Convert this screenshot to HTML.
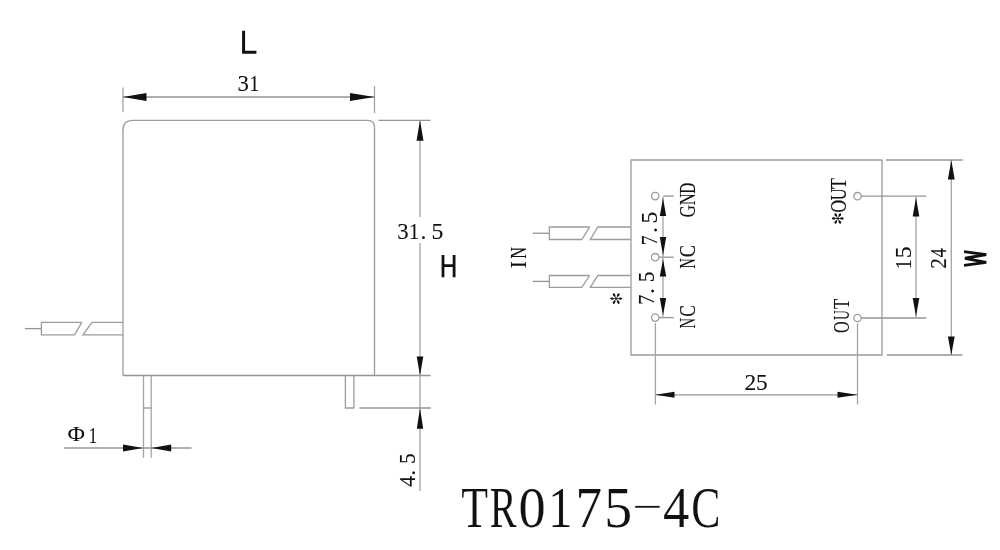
<!DOCTYPE html>
<html><head><meta charset="utf-8"><style>
html,body{margin:0;padding:0;background:#fff;width:1000px;height:550px;overflow:hidden}
svg{display:block;will-change:transform}
</style></head><body>
<svg width="1000" height="550" viewBox="0 0 1000 550">
<rect width="1000" height="550" fill="#fff"/>
<path d="M123,375.5 L123,130.3 Q123,120.3 133,120.3 L367.5,120.3 Q374.5,120.3 374.5,127.3 L374.5,375.5" fill="none" stroke="#9c9c9c" stroke-width="1.3"/>
<line x1="123" y1="375.5" x2="430.6" y2="375.5" stroke="#959595" stroke-width="1.3"/>
<line x1="123" y1="87.6" x2="123" y2="112.2" stroke="#a4a4a4" stroke-width="1.3"/>
<line x1="374.5" y1="86" x2="374.5" y2="113" stroke="#a4a4a4" stroke-width="1.3"/>
<line x1="123" y1="97" x2="374.5" y2="97" stroke="#959595" stroke-width="1.3"/>
<polygon points="123,97 146.5,93.1 146.5,100.9" fill="#111"/>
<polygon points="374.5,97 350.0,93.1 350.0,100.9" fill="#111"/>
<line x1="378.4" y1="120.3" x2="430.6" y2="120.3" stroke="#959595" stroke-width="1.3"/>
<line x1="420" y1="120.3" x2="420" y2="217" stroke="#a4a4a4" stroke-width="1.3"/>
<line x1="420" y1="243" x2="420" y2="491" stroke="#a4a4a4" stroke-width="1.3"/>
<polygon points="420,120.3 416.5,140.8 423.5,140.8" fill="#111"/>
<polygon points="420,375.5 416.7,356.5 423.3,356.5" fill="#111"/>
<polygon points="420,408 416.8,428.7 423.2,428.7" fill="#111"/>
<line x1="359.5" y1="408" x2="430.6" y2="408" stroke="#959595" stroke-width="1.3"/>
<path d="M345.4,375.5 L345.4,408 L353.9,408 L353.9,375.5" fill="none" stroke="#9c9c9c" stroke-width="1.3"/>
<line x1="143.5" y1="375.5" x2="143.5" y2="457.7" stroke="#a4a4a4" stroke-width="1.3"/>
<line x1="151.2" y1="375.5" x2="151.2" y2="457.7" stroke="#a4a4a4" stroke-width="1.3"/>
<line x1="143.5" y1="408" x2="151.2" y2="408" stroke="#959595" stroke-width="1.3"/>
<line x1="64" y1="448" x2="191.6" y2="448" stroke="#959595" stroke-width="1.3"/>
<polygon points="143,448 123,444.6 123,451.4" fill="#111"/>
<polygon points="151.2,448 171.2,444.6 171.2,451.4" fill="#111"/>
<line x1="24.8" y1="328.6" x2="41.4" y2="328.6" stroke="#959595" stroke-width="1.3"/>
<path d="M81.8,322.4 L41.4,322.4 L41.4,334.8 L74.6,334.8 L81.8,322.4" fill="none" stroke="#9c9c9c" stroke-width="1.3"/>
<path d="M123,322.4 L92,322.4 L83,334.8 L123,334.8" fill="none" stroke="#9c9c9c" stroke-width="1.3"/>
<path d="M631,160 L882,160 L882,355 L631,355 Z" fill="none" stroke="#9c9c9c" stroke-width="1.3"/>
<line x1="886" y1="160" x2="962.7" y2="160" stroke="#959595" stroke-width="1.3"/>
<line x1="887" y1="355" x2="962.4" y2="355" stroke="#959595" stroke-width="1.3"/>
<line x1="951.3" y1="160" x2="951.3" y2="355" stroke="#a4a4a4" stroke-width="1.3"/>
<polygon points="951.3,160 947.9,179.6 954.6999999999999,179.6" fill="#111"/>
<polygon points="951.3,355 947.9,336.5 954.6999999999999,336.5" fill="#111"/>
<circle cx="857.5" cy="196.2" r="3.7" fill="none" stroke="#9c9c9c" stroke-width="1.3"/>
<circle cx="857.5" cy="318" r="3.7" fill="none" stroke="#9c9c9c" stroke-width="1.3"/>
<line x1="861.2" y1="196.2" x2="926.4" y2="196.2" stroke="#959595" stroke-width="1.3"/>
<line x1="861.2" y1="318" x2="926.4" y2="318" stroke="#959595" stroke-width="1.3"/>
<line x1="916" y1="196.2" x2="916" y2="318" stroke="#a4a4a4" stroke-width="1.3"/>
<polygon points="916,197.5 912.7,216.5 919.3,216.5" fill="#111"/>
<polygon points="916,316.5 912.7,298.0 919.3,298.0" fill="#111"/>
<line x1="857.5" y1="323.5" x2="857.5" y2="404.5" stroke="#a4a4a4" stroke-width="1.3"/>
<circle cx="655.2" cy="196.1" r="3.7" fill="none" stroke="#9c9c9c" stroke-width="1.3"/>
<line x1="663.3" y1="196.1" x2="673.8" y2="196.1" stroke="#959595" stroke-width="1.3"/>
<circle cx="655.2" cy="257.2" r="3.7" fill="none" stroke="#9c9c9c" stroke-width="1.3"/>
<line x1="659.2" y1="257.2" x2="673.8" y2="257.2" stroke="#959595" stroke-width="1.3"/>
<circle cx="655.2" cy="317.6" r="3.7" fill="none" stroke="#9c9c9c" stroke-width="1.3"/>
<line x1="659.2" y1="317.6" x2="673.8" y2="317.6" stroke="#959595" stroke-width="1.3"/>
<line x1="663" y1="196.5" x2="663" y2="317.4" stroke="#a4a4a4" stroke-width="1.3"/>
<polygon points="663,198 659.8,216 666.2,216" fill="#111"/>
<polygon points="663,255.4 659.8,237.1 666.2,237.1" fill="#111"/>
<polygon points="663,259 659.8,276.5 666.2,276.5" fill="#111"/>
<polygon points="663,315.5 659.8,298.0 666.2,298.0" fill="#111"/>
<line x1="655.4" y1="323" x2="655.4" y2="404.5" stroke="#a4a4a4" stroke-width="1.3"/>
<line x1="655.5" y1="394.8" x2="857.5" y2="394.8" stroke="#959595" stroke-width="1.3"/>
<polygon points="655.5,394.8 674.5,391.8 674.5,397.8" fill="#111"/>
<polygon points="857.5,394.8 837.5,391.8 837.5,397.8" fill="#111"/>
<line x1="532.7" y1="233.25" x2="549.4" y2="233.25" stroke="#959595" stroke-width="1.3"/>
<path d="M589.7,227 L549.4,227 L549.4,239.5 L581.8,239.5 L589.7,227" fill="none" stroke="#9c9c9c" stroke-width="1.3"/>
<path d="M631,227 L597.9,227 L590.3,239.5 L631,239.5" fill="none" stroke="#9c9c9c" stroke-width="1.3"/>
<line x1="532.7" y1="281.4" x2="549.4" y2="281.4" stroke="#959595" stroke-width="1.3"/>
<path d="M589.7,275.5 L549.4,275.5 L549.4,287.3 L581.8,287.3 L589.7,275.5" fill="none" stroke="#9c9c9c" stroke-width="1.3"/>
<path d="M631,275.5 L597.9,275.5 L590.3,287.3 L631,287.3" fill="none" stroke="#9c9c9c" stroke-width="1.3"/>
<path d="M243.6,30.8 V52.2 H256.4" fill="none" stroke="#111" stroke-width="3.0"/>
<path d="M443,255 V277.3 M454.1,255 V277.3 M443,265.6 H454.1" fill="none" stroke="#111" stroke-width="2.8"/>
<path d="M964,251.6 L986.2,254.6 L965,258.3 L986.2,262.4 L964,265.4" fill="none" stroke="#111" stroke-width="2.9"/>
<text transform="translate(237.51,91.20) scale(0.968,1)" font-family="Liberation Serif" font-size="23.5" fill="#111" stroke="#111" stroke-width="0.12">3</text>
<text transform="translate(249.60,91.20) scale(0.822,1)" font-family="Liberation Serif" font-size="23.5" fill="#111" stroke="#111" stroke-width="0.12">1</text>
<text transform="translate(397.31,238.60) scale(0.968,1)" font-family="Liberation Serif" font-size="23.5" fill="#111" stroke="#111" stroke-width="0.12">3</text>
<text transform="translate(409.10,238.60) scale(0.870,1)" font-family="Liberation Serif" font-size="23.5" fill="#111" stroke="#111" stroke-width="0.12">1</text>
<text transform="translate(420.56,238.60) scale(1.000,1)" font-family="Liberation Serif" font-size="23.5" fill="#111" stroke="#111" stroke-width="0.12">.</text>
<text transform="translate(431.58,238.60) scale(1.004,1)" font-family="Liberation Serif" font-size="23.5" fill="#111" stroke="#111" stroke-width="0.12">5</text>
<text transform="translate(415.00,486.82) rotate(-90) scale(0.915,1)" font-family="Liberation Serif" font-size="23.5" fill="#111" stroke="#111" stroke-width="0.12">4</text>
<text transform="translate(415.00,475.64) rotate(-90) scale(1.000,1)" font-family="Liberation Serif" font-size="23.5" fill="#111" stroke="#111" stroke-width="0.12">.</text>
<text transform="translate(415.00,463.94) rotate(-90) scale(0.908,1)" font-family="Liberation Serif" font-size="23.5" fill="#111" stroke="#111" stroke-width="0.12">5</text>
<text transform="translate(67.58,440.50) scale(1.193,1)" font-family="Liberation Serif" font-size="20" fill="#111" stroke="#111" stroke-width="0">Φ</text>
<text transform="translate(88.78,442.60) scale(0.713,1)" font-family="Liberation Serif" font-size="23.5" fill="#111" stroke="#111" stroke-width="0.12">1</text>
<text transform="translate(694.80,193.64) rotate(-90) scale(0.651,1)" font-family="Liberation Serif" font-size="23.5" fill="#111" stroke="#111" stroke-width="0.12">D</text>
<text transform="translate(694.80,205.28) rotate(-90) scale(0.711,1)" font-family="Liberation Serif" font-size="23.5" fill="#111" stroke="#111" stroke-width="0.12">N</text>
<text transform="translate(694.80,217.51) rotate(-90) scale(0.733,1)" font-family="Liberation Serif" font-size="23.5" fill="#111" stroke="#111" stroke-width="0.12">G</text>
<text transform="translate(695.30,257.20) rotate(-90) scale(0.783,1)" font-family="Liberation Serif" font-size="23.5" fill="#111" stroke="#111" stroke-width="0.12">C</text>
<text transform="translate(695.30,268.41) rotate(-90) scale(0.609,1)" font-family="Liberation Serif" font-size="23.5" fill="#111" stroke="#111" stroke-width="0.12">N</text>
<text transform="translate(695.30,316.66) rotate(-90) scale(0.738,1)" font-family="Liberation Serif" font-size="23.5" fill="#111" stroke="#111" stroke-width="0.12">C</text>
<text transform="translate(695.30,328.38) rotate(-90) scale(0.628,1)" font-family="Liberation Serif" font-size="23.5" fill="#111" stroke="#111" stroke-width="0.12">N</text>
<text transform="translate(656.50,223.62) rotate(-90) scale(1.004,1)" font-family="Liberation Serif" font-size="23.5" fill="#111" stroke="#111" stroke-width="0.12">5</text>
<text transform="translate(656.50,232.94) rotate(-90) scale(1.000,1)" font-family="Liberation Serif" font-size="23.5" fill="#111" stroke="#111" stroke-width="0.12">.</text>
<text transform="translate(656.50,245.30) rotate(-90) scale(0.840,1)" font-family="Liberation Serif" font-size="23.5" fill="#111" stroke="#111" stroke-width="0.12">7</text>
<text transform="translate(653.60,282.24) rotate(-90) scale(0.908,1)" font-family="Liberation Serif" font-size="23.5" fill="#111" stroke="#111" stroke-width="0.12">5</text>
<text transform="translate(653.60,293.94) rotate(-90) scale(1.000,1)" font-family="Liberation Serif" font-size="23.5" fill="#111" stroke="#111" stroke-width="0.12">.</text>
<text transform="translate(653.60,304.77) rotate(-90) scale(0.850,1)" font-family="Liberation Serif" font-size="23.5" fill="#111" stroke="#111" stroke-width="0.12">7</text>
<text transform="translate(525.50,258.86) rotate(-90) scale(0.686,1)" font-family="Liberation Serif" font-size="23.5" fill="#111" stroke="#111" stroke-width="0.12">N</text>
<text transform="translate(525.50,268.15) rotate(-90) scale(0.878,1)" font-family="Liberation Serif" font-size="23.5" fill="#111" stroke="#111" stroke-width="0.12">I</text>
<text transform="translate(845.50,188.97) rotate(-90) scale(0.761,1)" font-family="Liberation Serif" font-size="23.5" fill="#111" stroke="#111" stroke-width="0.12">T</text>
<text transform="translate(845.50,200.30) rotate(-90) scale(0.707,1)" font-family="Liberation Serif" font-size="23.5" fill="#111" stroke="#111" stroke-width="0.12">U</text>
<text transform="translate(845.50,212.63) rotate(-90) scale(0.758,1)" font-family="Liberation Serif" font-size="23.5" fill="#111" stroke="#111" stroke-width="0.12">O</text>
<text transform="translate(849.00,309.10) rotate(-90) scale(0.709,1)" font-family="Liberation Serif" font-size="23.5" fill="#111" stroke="#111" stroke-width="0.12">T</text>
<text transform="translate(849.00,319.88) rotate(-90) scale(0.576,1)" font-family="Liberation Serif" font-size="23.5" fill="#111" stroke="#111" stroke-width="0.12">U</text>
<text transform="translate(849.00,333.07) rotate(-90) scale(0.691,1)" font-family="Liberation Serif" font-size="23.5" fill="#111" stroke="#111" stroke-width="0.12">O</text>
<text transform="translate(744.57,390.00) scale(0.998,1)" font-family="Liberation Serif" font-size="23.5" fill="#111" stroke="#111" stroke-width="0.12">2</text>
<text transform="translate(756.04,390.00) scale(0.993,1)" font-family="Liberation Serif" font-size="23.5" fill="#111" stroke="#111" stroke-width="0.12">5</text>
<text transform="translate(910.50,269.15) rotate(-90) scale(0.846,1)" font-family="Liberation Serif" font-size="23.5" fill="#111" stroke="#111" stroke-width="0.12">1</text>
<text transform="translate(910.50,258.28) rotate(-90) scale(1.014,1)" font-family="Liberation Serif" font-size="23.5" fill="#111" stroke="#111" stroke-width="0.12">5</text>
<text transform="translate(945.80,268.64) rotate(-90) scale(0.913,1)" font-family="Liberation Serif" font-size="23.5" fill="#111" stroke="#111" stroke-width="0.12">2</text>
<text transform="translate(945.80,257.25) rotate(-90) scale(0.760,1)" font-family="Liberation Serif" font-size="23.5" fill="#111" stroke="#111" stroke-width="0.12">4</text>
<line x1="611.4000000000001" y1="298.6" x2="621.0" y2="298.6" stroke="#222" stroke-width="0.9"/>
<line x1="613.8" y1="294.44" x2="618.6" y2="302.76" stroke="#222" stroke-width="0.9"/>
<line x1="618.6" y1="294.44" x2="613.8" y2="302.76" stroke="#222" stroke-width="0.9"/>
<ellipse cx="620.40" cy="298.60" rx="1.80" ry="1.15" fill="#111" transform="rotate(0 620.40 298.60)"/>
<ellipse cx="618.30" cy="302.24" rx="1.80" ry="1.15" fill="#111" transform="rotate(60 618.30 302.24)"/>
<ellipse cx="614.10" cy="302.24" rx="1.80" ry="1.15" fill="#111" transform="rotate(120 614.10 302.24)"/>
<ellipse cx="612.00" cy="298.60" rx="1.80" ry="1.15" fill="#111" transform="rotate(180 612.00 298.60)"/>
<ellipse cx="614.10" cy="294.96" rx="1.80" ry="1.15" fill="#111" transform="rotate(240 614.10 294.96)"/>
<ellipse cx="618.30" cy="294.96" rx="1.80" ry="1.15" fill="#111" transform="rotate(300 618.30 294.96)"/>
<line x1="833.0799999999999" y1="218.5" x2="842.52" y2="218.5" stroke="#222" stroke-width="0.9"/>
<line x1="835.44" y1="214.41" x2="840.16" y2="222.59" stroke="#222" stroke-width="0.9"/>
<line x1="840.16" y1="214.41" x2="835.44" y2="222.59" stroke="#222" stroke-width="0.9"/>
<ellipse cx="841.93" cy="218.50" rx="1.77" ry="1.15" fill="#111" transform="rotate(0 841.93 218.50)"/>
<ellipse cx="839.87" cy="222.08" rx="1.77" ry="1.15" fill="#111" transform="rotate(60 839.87 222.08)"/>
<ellipse cx="835.73" cy="222.08" rx="1.77" ry="1.15" fill="#111" transform="rotate(120 835.73 222.08)"/>
<ellipse cx="833.67" cy="218.50" rx="1.77" ry="1.15" fill="#111" transform="rotate(180 833.67 218.50)"/>
<ellipse cx="835.73" cy="214.92" rx="1.77" ry="1.15" fill="#111" transform="rotate(240 835.73 214.92)"/>
<ellipse cx="839.87" cy="214.92" rx="1.77" ry="1.15" fill="#111" transform="rotate(300 839.87 214.92)"/>
<text transform="translate(461.21,527.20) scale(0.754,1)" font-family="Liberation Serif" font-size="58" fill="#111" stroke="#fff" stroke-width="0.15">T</text>
<text transform="translate(489.80,527.20) scale(0.691,1)" font-family="Liberation Serif" font-size="58" fill="#111" stroke="#fff" stroke-width="0.15">R</text>
<text transform="translate(518.43,527.20) scale(0.936,1)" font-family="Liberation Serif" font-size="58" fill="#111" stroke="#fff" stroke-width="0.15">0</text>
<text transform="translate(548.26,527.20) scale(0.833,1)" font-family="Liberation Serif" font-size="58" fill="#111" stroke="#fff" stroke-width="0.15">1</text>
<text transform="translate(575.50,527.20) scale(0.915,1)" font-family="Liberation Serif" font-size="58" fill="#111" stroke="#fff" stroke-width="0.15">7</text>
<text transform="translate(604.25,527.20) scale(0.963,1)" font-family="Liberation Serif" font-size="58" fill="#111" stroke="#fff" stroke-width="0.15">5</text>
<text transform="translate(662.92,527.20) scale(0.909,1)" font-family="Liberation Serif" font-size="58" fill="#111" stroke="#fff" stroke-width="0.15">4</text>
<text transform="translate(691.20,527.20) scale(0.755,1)" font-family="Liberation Serif" font-size="58" fill="#111" stroke="#fff" stroke-width="0.15">C</text>
<line x1="635.2" y1="506.8" x2="659.6" y2="506.8" stroke="#111" stroke-width="1.8"/>
</svg>
</body></html>
